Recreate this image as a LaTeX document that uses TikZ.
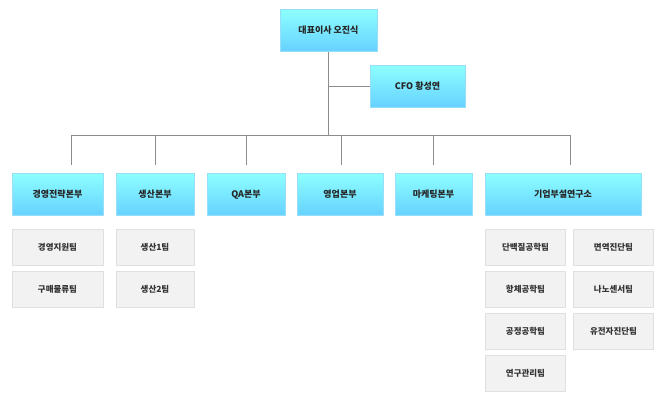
\documentclass[tikz,border=0pt]{standalone}
\usepackage{fontspec}
\newfontfamily\kr{Noto Sans CJK KR}
\begin{document}
\begin{tikzpicture}[x=1pt,y=-1pt,
 bluebox/.style={draw=cyan!40!white,line width=0.8pt,top color=cyan!45!white,bottom color=cyan!70!blue!60!white,minimum height=42pt,inner sep=0pt,font=\kr\bfseries\fontsize{9}{10}\selectfont,text=black!85},
 graybox/.style={draw=black!12,fill=black!5,minimum height=36pt,minimum width=80pt,inner sep=0pt,font=\kr\bfseries\fontsize{8.5}{10}\selectfont,text=black!80},
 ln/.style={draw=black!45,line width=0.6pt}]
\useasboundingbox (0,0) rectangle (659,403);
\node[bluebox,minimum width=97pt] (ceo) at (328.5,30.5) {대표이사 오진식};
\node[bluebox,minimum width=95pt] (cfo) at (417.5,86.5) {CFO 황성연};
\node[bluebox,minimum width=91pt] (d1) at (57.5,194.5) {경영전략본부};
\node[bluebox,minimum width=78pt] (d2) at (155,194.5) {생산본부};
\node[bluebox,minimum width=78pt] (d3) at (246,194.5) {QA본부};
\node[bluebox,minimum width=86pt] (d4) at (340,194.5) {영업본부};
\node[bluebox,minimum width=77pt] (d5) at (433.5,194.5) {마케팅본부};
\node[bluebox,minimum width=156pt] (d6) at (563,194.5) {기업부설연구소};
\node[graybox,minimum width=91pt] (s11) at (57.5,247.5) {경영지원팀};
\node[graybox,minimum width=91pt] (s12) at (57.5,289.5) {구매물류팀};
\node[graybox,minimum width=78pt] (s21) at (155,247.5) {생산1팀};
\node[graybox,minimum width=78pt] (s22) at (155,289.5) {생산2팀};
\node[graybox] (r1) at (525.5,247.5) {단백질공학팀};
\node[graybox] (r2) at (525.5,289.5) {항체공학팀};
\node[graybox] (r3) at (525.5,331.5) {공정공학팀};
\node[graybox] (r4) at (525.5,373.5) {연구관리팀};
\node[graybox] (r5) at (613.5,247.5) {면역진단팀};
\node[graybox] (r6) at (613.5,289.5) {나노센서팀};
\node[graybox] (r7) at (613.5,331.5) {유전자진단팀};
\coordinate (hub) at (328.5,135);
\draw[ln] (ceo.south) -- (hub);
\draw[ln] (ceo.south |- cfo.west) -- (cfo.west);
\draw[ln] (71,135) -- (570,135);
\foreach \n/\x in {d1/71,d2/155,d3/246,d4/341,d5/433,d6/570}
  \draw[ln] (\x,135) -- (\x,165);
\end{tikzpicture}
\end{document}
